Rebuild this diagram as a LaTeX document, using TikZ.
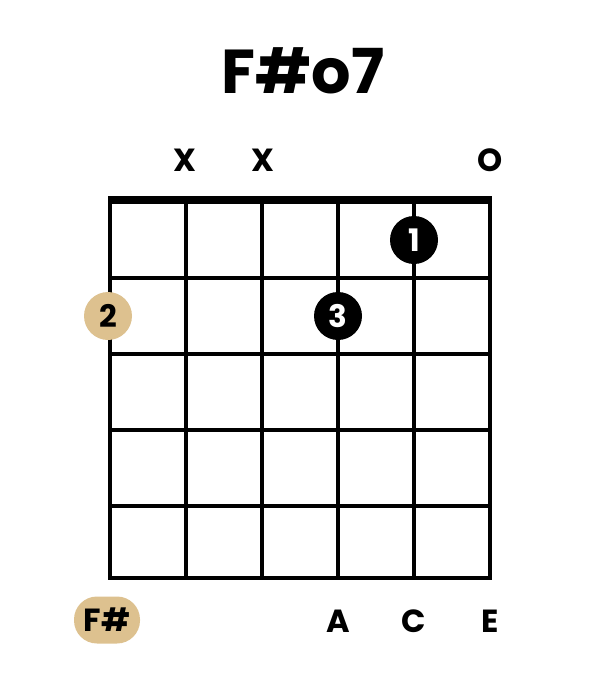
\documentclass[tikz,border=0pt]{standalone}
\usepackage{fontspec}
\setmainfont{Poppins}
\definecolor{rootTan}{HTML}{DDC18F}
\tikzset{
  gridline/.style={line width=4pt},
  label/.style={font=\fontsize{32}{32}\selectfont\bfseries, inner sep=0pt, anchor=base},
  finger/.style={shape=circle, fill=black, text=white, minimum size=48pt, inner sep=0pt,
    font=\fontsize{31}{31}\selectfont\bfseries},
  root/.style={finger, fill=rootTan, text=black}
}
\begin{document}
\begin{tikzpicture}[x=1pt,y=-1pt]
  \useasboundingbox (0,0) rectangle (600,680);

  \node[font=\fontsize{62}{62}\selectfont\bfseries, inner sep=0pt, anchor=base] (title) at (303,93) {F\#o7};

  % fretboard
  \draw[gridline] (110,200) -- (110,578);
  \draw[gridline] (186,200) -- (186,578);
  \draw[gridline] (262,200) -- (262,578);
  \draw[gridline] (338,200) -- (338,578);
  \draw[gridline] (414,200) -- (414,578);
  \draw[gridline] (490,200) -- (490,578);
  \draw[gridline] (108,278) -- (492,278);
  \draw[gridline] (108,354) -- (492,354);
  \draw[gridline] (108,430) -- (492,430);
  \draw[gridline] (108,506) -- (492,506);
  \draw[gridline] (108,578) -- (492,578);
  \draw[line width=8pt] (108,200) -- (492,200);

  % open and muted strings
  \node[label] (x5) at (185,171) {X};
  \node[label] (x4) at (263,171) {X};
  \node[label] (o1) at (490,171) {O};

  % fingers
  \node[finger] (f1) at (414,240) {1};
  \node[finger] (f3) at (338,316) {3};
  \node[root] (f2) at (108,316) {2};

  % notes
  \node[shape=rectangle, rounded corners=23pt, fill=rootTan, minimum width=66pt, minimum height=47pt,
    font=\fontsize{32}{32}\selectfont\bfseries] (nF) at (107,620) {F\#};
  \node[label] (nA) at (338,632) {A};
  \node[label] (nC) at (414,632) {C};
  \node[label] (nE) at (490,632) {E};
\end{tikzpicture}
\end{document}
